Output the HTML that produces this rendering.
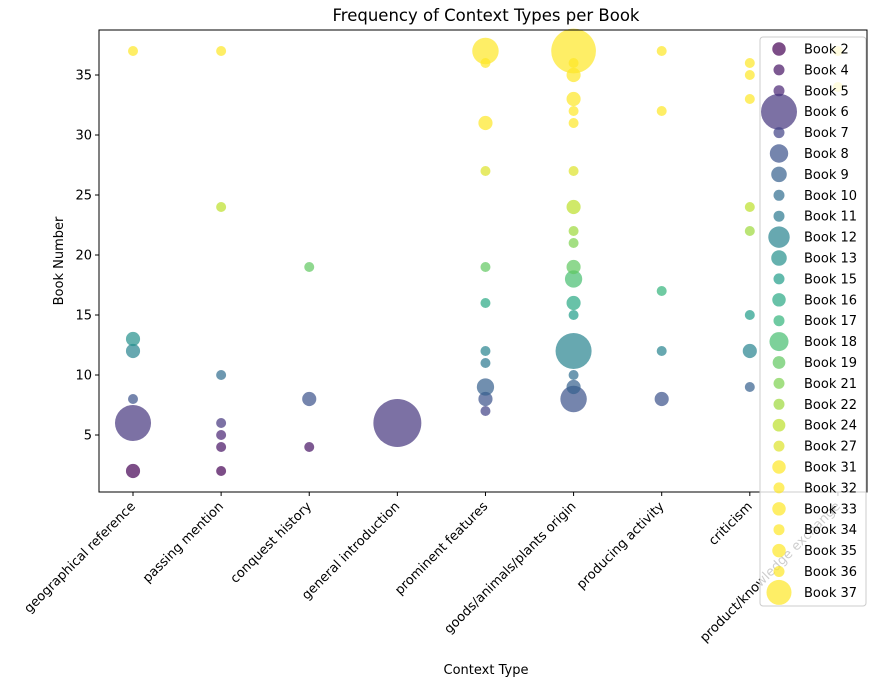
<!DOCTYPE html>
<html><head><meta charset="utf-8"><style>
body{margin:0;background:#fff;}
svg text{font-family:"DejaVu Sans","Liberation Sans",sans-serif;}
</style></head><body>
<svg id="chart" width="883" height="686" xmlns="http://www.w3.org/2000/svg"></svg>
<script>
const categories=["geographical reference","passing mention","conquest history","general introduction","prominent features","goods/animals/plants origin","producing activity","criticism","product/knowledge exchange"];
const books=[2,4,5,6,7,8,9,10,11,12,13,15,16,17,18,19,21,22,24,27,31,32,33,34,35,36,37];
// per book: category indices and counts
const bookCats=[[0,1],[1,2],[1],[0,1,3],[4],[0,2,4,5,6],[4,5,7],[1,5],[4],[0,4,5,6,7],[0],[5,7],[4,5],[6],[5],[2,4,5],[5],[5,7],[1,5,7],[4,5],[4,5],[5,6],[5,7],[8],[5,7],[4,5,7],[0,1,4,5,6,8]];
const bookCounts=[[2,1],[1,1],[1],[13,1,23],[1],[1,2,2,7,2],[3,2,1],[1,1],[1],[2,1,13,1,2],[2],[1,1],[1,2],[1],[3],[1,1,2],[1],[1,1],[1,2,1],[1,1],[2,1],[1,1],[2,1],[1],[2,1],[1,1,1],[1,1,7,20,1,1]];
const yTicks=[5,10,15,20,25,30,35];

const svg=document.getElementById('chart');
const NS='http://www.w3.org/2000/svg';
function mk(tag,attrs,parent){const e=document.createElementNS(NS,tag);for(const k in attrs)e.setAttribute(k,attrs[k]);(parent||svg).appendChild(e);return e;}
const L=99,R=867,T=30,B=492;
const xMin=-0.386,xMax=8.33,yMin=0.25,yMax=38.75;
const xS=i=>L+(i-xMin)/(xMax-xMin)*(R-L);
const yS=v=>B-(v-yMin)/(yMax-yMin)*(B-T);
const stops=[[68,1,84],[72,40,120],[62,73,137],[49,104,142],[38,130,142],[31,158,137],[53,183,121],[110,206,88],[181,222,43],[253,231,37]];
function viridis(t){t=Math.max(0,Math.min(1,t));const p=t*(stops.length-1);const i=Math.min(Math.floor(p),stops.length-2);const f=p-i;const c=stops[i].map((v,k)=>Math.round(v+(stops[i+1][k]-v)*f));return `rgb(${c[0]},${c[1]},${c[2]})`;}
const col=bi=>viridis(bi/20);
const rad=c=>5*Math.sqrt(c);

let t=mk('text',{x:486,y:21,'text-anchor':'middle','font-size':16.5});t.textContent='Frequency of Context Types per Book';


t=mk('text',{x:486,y:674,'text-anchor':'middle','font-size':13});t.textContent='Context Type';


t=mk('text',{x:63,y:261,'text-anchor':'middle','font-size':13,transform:'rotate(-90 63 261)'});t.textContent='Book Number';



books.forEach((b,bi)=>{
  bookCats[bi].forEach((c,j)=>{
    const p=mk('circle',{cx:xS(c),cy:yS(b),r:rad(bookCounts[bi][j]),fill:col(bi),'fill-opacity':0.7});
    
    
  });
});

const fr=mk('rect',{x:L,y:T,width:R-L,height:B-T,fill:'none',stroke:'#000','stroke-width':1});



yTicks.forEach(v=>{
  const y=yS(v);
  mk('line',{x1:L-4,x2:L,y1:y,y2:y,stroke:'#000'});
  const tx=mk('text',{x:L-7,y:y+4.5,'text-anchor':'end','font-size':13});tx.textContent=v;
  
  
});
categories.forEach((c,i)=>{
  const x=xS(i);
  mk('line',{x1:x,x2:x,y1:B,y2:B+4,stroke:'#000'});
  const tx=mk('text',{x:x+3,y:B+15,'text-anchor':'end','font-size':13,transform:`rotate(-45 ${x+3} ${B+15})`});tx.textContent=c;
  
  
});

const lg=mk('g',{});


mk('rect',{x:760,y:37,width:106,height:569,rx:3,fill:'#fff','fill-opacity':0.8,stroke:'#ccc'},lg);
books.forEach((b,bi)=>{
  const y=49+bi*20.9;
  const cs=bookCounts[bi];const mean=cs.reduce((a,v)=>a+v,0)/cs.length;
  const r=Math.min(18,5.5*Math.sqrt(mean));
  const g=mk('g',{},lg);
  
  
  mk('circle',{cx:779,cy:y,r:r,fill:col(bi),'fill-opacity':0.7},g);
  const tx=mk('text',{x:804,y:y+4.5,'font-size':13},g);tx.textContent='Book '+b;
});
</script>
</body></html>
